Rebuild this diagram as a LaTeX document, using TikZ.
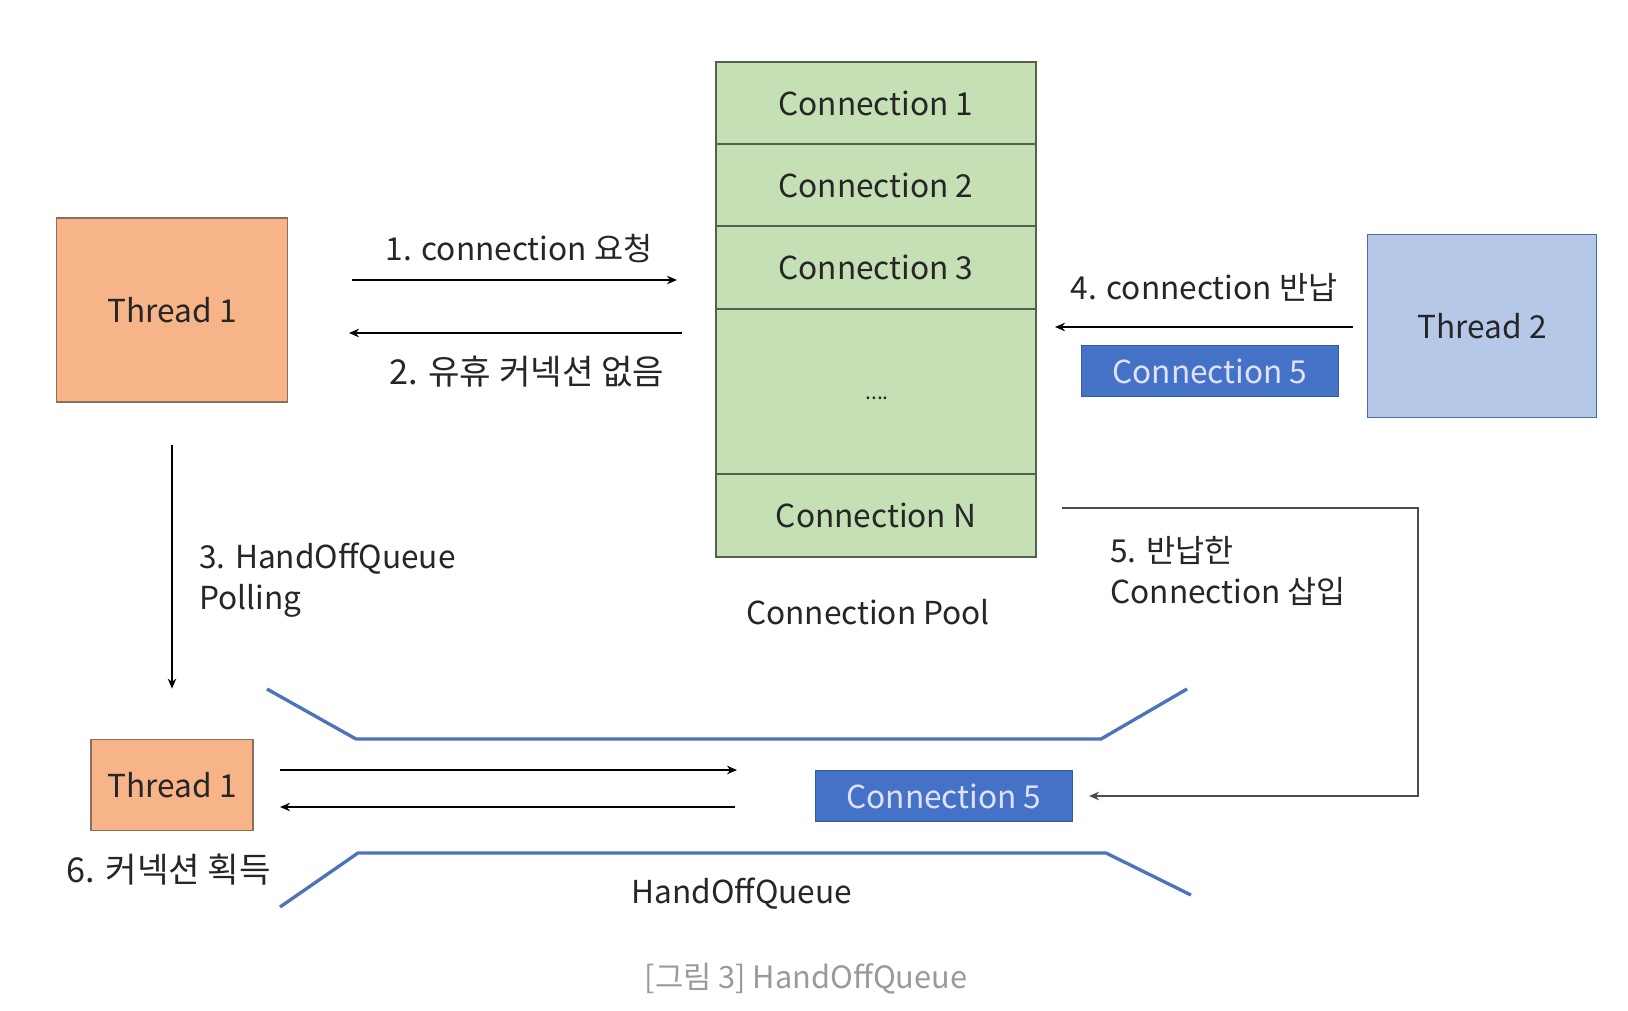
\documentclass[tikz,border=0pt]{standalone}
\usepackage{fontspec}
\setmainfont{Noto Sans CJK KR}
\usepackage{xcolor}
\usetikzlibrary{arrows.meta}

\definecolor{orangebox}{HTML}{F6B488}
\definecolor{orangeline}{HTML}{8C6E5C}
\definecolor{greenbox}{HTML}{C6E0B5}
\definecolor{greenline}{HTML}{56604F}
\definecolor{bluebox}{HTML}{B5C8E8}
\definecolor{blueline}{HTML}{4D6D9E}
\definecolor{connblue}{HTML}{4472C6}
\definecolor{queueblue}{HTML}{4C74BA}
\definecolor{captiongray}{HTML}{9A9A9A}

\begin{document}
\begin{tikzpicture}[
      x=0.02cm, y=-0.02cm,
      every node/.style={font=\fontsize{18}{23}\selectfont, text=black!85},
      thread/.style={draw=orangeline, fill=orangebox, line width=1pt, inner sep=0pt},
      cell/.style={draw=greenline, fill=greenbox, line width=1.2pt, inner sep=0pt, minimum width=6.4cm},
      conn/.style={draw=connblue!80!black, fill=connblue, text=white!88!blue, inner sep=0pt, minimum width=5.15cm, minimum height=1.02cm},
      arr/.style={-{Stealth[length=2mm, width=1.7mm]}, line width=1.1pt},
      ret/.style={-{Stealth[length=2mm, width=1.7mm]}, line width=1.3pt, draw=black!70},
      queue/.style={draw=queueblue, line width=1.9pt},
      lbl/.style={inner sep=0pt},
      wide/.style={font=\fontsize{19.5}{23}\selectfont},
    ]
    \useasboundingbox (0,0) rectangle (1628,1010);
    % threads
    \node[thread, minimum width=4.62cm, minimum height=3.68cm] (t1) at (172,310) {Thread 1};
    \node[thread, draw=blueline, fill=bluebox, minimum width=4.58cm, minimum height=3.66cm] (t2) at (1482,326) {Thread 2};
    \node[thread, minimum width=3.24cm, minimum height=1.82cm] (t1b) at (172,785) {Thread 1};
    % connection pool
    \node[cell, minimum height=1.64cm] (c1) at (876,103) {Connection 1};
    \node[cell, minimum height=1.64cm] (c2) at (876,185) {Connection 2};
    \node[cell, minimum height=1.66cm] (c3) at (876,267.5) {Connection 3};
    \node[cell, minimum height=3.3cm] (cdots) at (876,391.5) {};
    \node[lbl, font=\fontsize{12}{14}\selectfont] (dots) at (877,398) {....};
    \node[cell, minimum height=1.66cm] (cN) at (876,515.5) {Connection N};
    \node[lbl] (pool) at (868,612) {Connection Pool};
    % connection 5
    \node[conn] (c5a) at (1210,371) {Connection 5};
    \node[conn] (c5b) at (944,796) {Connection 5};
    % handoff queue walls
    \draw[queue] (267,689) -- (356,739) -- (1101,739) -- (1187,689);
    \draw[queue] (280,907) -- (358,853) -- (1106,853) -- (1191,895);
    \node[lbl] (hq) at (742,894) {HandOffQueue};
    % arrow ends
    \coordinate (a1s) at (352,280);
    \coordinate (a1e) at (677,280);
    \coordinate (a2s) at (682,333);
    \coordinate (a2e) at (349,333);
    \coordinate (a4s) at (1353,327);
    \coordinate (a4e) at (1055,327);
    \coordinate (a5s) at (1062,508);
    \coordinate (a5c) at (1418,508);
    \coordinate (a6s) at (280,770);
    \coordinate (a6e) at (737,770);
    \coordinate (a7s) at (735,807);
    \coordinate (a7e) at (280,807);
    % arrows
    \draw[arr] (a1s) -- (a1e);
    \draw[arr] (a2s) -- (a2e);
    \draw[arr] (a4s) -- (a4e);
    \draw[arr, line width=0.9pt] ([yshift=-0.84cm]t1.south) -- ([yshift=1.0cm]t1b.north);
    \draw[ret] (a5s) -- (a5c) |- ([xshift=0.32cm]c5b.east);
    \draw[arr] (a6s) -- (a6e);
    \draw[arr] (a7s) -- (a7e);
    % labels
    \node[lbl] (l1) at (519,249) {1. connection 요청};
    \node[lbl, wide] (l2) at (527,372) {2. 유휴 커넥션 없음};
    \node[lbl] (l4) at (1204,287) {4. connection 반납};
    \node[lbl, anchor=west, align=left] (l3) at (199,580) {3. HandOffQueue\\Polling};
    \node[lbl, anchor=west, align=left] (l5) at (1110,571) {5. 반납한\\Connection 삽입};
    \node[lbl, wide] (l6) at (169,870) {6. 커넥션 획득};
    \node[lbl, text=captiongray, font=\fontsize{17.5}{23}\selectfont] (cap) at (806,979) {[그림 3] HandOffQueue};
  \end{tikzpicture}
\end{document}
